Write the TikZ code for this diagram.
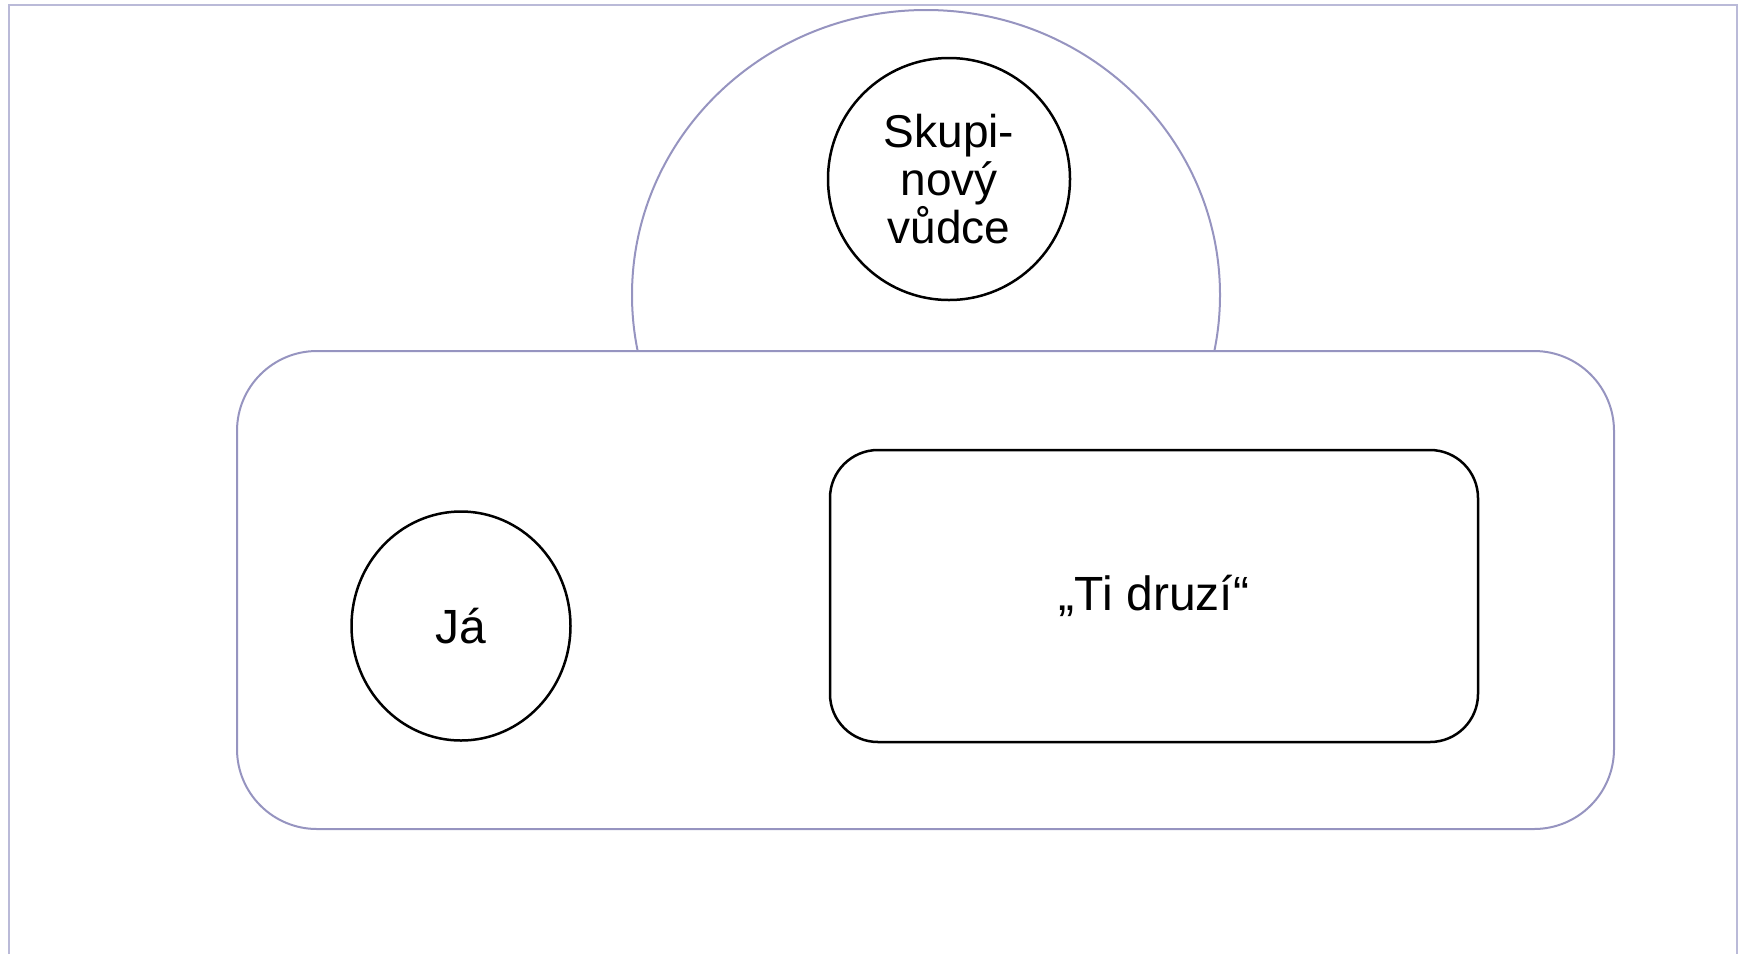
\documentclass[tikz,border=0pt]{standalone}
\usepackage{fontspec}
\setmainfont{Liberation Sans}
\usetikzlibrary{shapes.geometric}
\definecolor{framecol}{RGB}{186,186,216}
\definecolor{shapecol}{RGB}{150,148,192}
\tikzset{
  lavline/.style={draw=shapecol, line width=2pt},
  blackline/.style={draw=black, line width=2.5pt},
  bigtext/.style={font=\fontsize{48}{54}\selectfont, text=black},
}
\begin{document}
\begin{tikzpicture}[x=1pt,y=-1pt]
\useasboundingbox (0,0) rectangle (1745,954);
% outer frame (open at the bottom)
\draw[draw=framecol, line width=1.6pt] (9,954) -- (9,5) -- (1737,5) -- (1737,954);
% group ellipse
\node[ellipse, lavline, minimum width=588pt, minimum height=570pt, inner sep=0pt] (group) at (926,295) {};
% team rounded rectangle (covers lower part of ellipse)
\node[rectangle, rounded corners=80pt, lavline, fill=white, minimum width=1377pt, minimum height=478pt, inner sep=0pt] (team) at (925.5,590) {};
% leader
\node[circle, blackline, fill=white, minimum size=242pt, inner sep=0pt, align=center,
      font=\fontsize{46}{48}\selectfont] (leader) at (949,179) {Skupi-\\nový\\vůdce};
% me
\node[ellipse, blackline, fill=white, minimum width=219pt, minimum height=229pt, inner sep=0pt, bigtext] (me) at (461,626) {Já};
% others
\node[rectangle, rounded corners=48pt, blackline, fill=white, minimum width=648pt, minimum height=292pt, inner sep=0pt, bigtext] (others) at (1154,596) {„Ti druzí“};
\end{tikzpicture}
\end{document}
